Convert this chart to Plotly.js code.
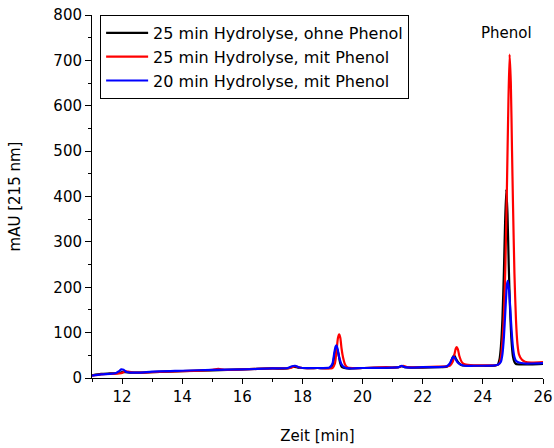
<!DOCTYPE html>
<html>
<head>
<meta charset="utf-8">
<script src="https://cdn.plot.ly/plotly-3.0.1.min.js"></script>
<style>html,body{margin:0;padding:0;background:#fff;}#chart{width:554px;height:448px;}</style>
</head>
<body>
<div id="chart"></div>
<script>
// Series 1: 25 min Hydrolyse, ohne Phenol (black)
const tBlack = [11.0,11.3,11.6,11.9,12.0,12.1,12.3,12.6,13,14,15,16,17,17.5,17.7,17.85,18,18.5,18.9,19.0,19.05,19.1,19.14,19.2,19.25,19.3,19.5,20,21,21.2,21.3,21.4,21.6,22,22.5,22.8,22.9,23.0,23.05,23.1,23.2,23.3,23.6,24,24.4,24.5,24.55,24.6,24.65,24.7,24.74,24.78,24.82,24.86,24.9,24.95,25.0,25.05,25.1,25.3,25.6,26];
const yBlack = [6,9,10,11,13,13,12,12,13,15,17,19,21,21,25,23,22,22,22,28,45,63,66,52,34,25,21,22,23,24,26,24,23,23,24,25,30,46,50,43,33,28,27,27,27,30,40,70,130,235,345,416,360,250,160,85,48,35,31,30,30,31];

// Series 2: 25 min Hydrolyse, mit Phenol (red)
const tRed = [11.0,11.3,11.6,11.9,12.0,12.1,12.2,12.4,12.7,13,14,15,15.2,15.4,16,17,17.6,17.75,17.9,18,18.5,19.0,19.08,19.13,19.18,19.22,19.26,19.3,19.35,19.42,19.5,20,20.8,21,21.2,21.35,21.5,22,22.5,22.9,23.0,23.06,23.1,23.13,23.17,23.22,23.3,23.4,23.7,24,24.4,24.5,24.55,24.6,24.65,24.7,24.75,24.8,24.85,24.89,24.93,24.97,25.0,25.05,25.1,25.15,25.2,25.3,25.4,25.6,26];
const yRed = [5,8,9,10,11,15,14,12,12,13,15,18,20,18,19,21,22,26,23,22,22,22,32,58,88,96,88,65,45,29,23,22,24,23,24,27,24,24,25,27,36,54,65,68,63,48,35,30,28,28,28,29,32,45,80,140,250,420,610,713,650,500,390,230,130,75,52,40,36,34,35];

// Series 3: 20 min Hydrolyse, mit Phenol (blue)
const tBlue = [11.0,11.3,11.6,11.8,11.9,11.97,12.05,12.15,12.3,12.6,13,14,15,16,17,17.5,17.65,17.75,17.9,18,18.5,18.9,19.0,19.05,19.1,19.13,19.17,19.22,19.3,19.4,19.6,20,21,21.2,21.3,21.4,21.6,22,22.5,22.8,22.9,22.97,23.02,23.08,23.15,23.25,23.4,23.7,24,24.4,24.5,24.6,24.65,24.7,24.75,24.8,24.83,24.87,24.9,24.95,25.0,25.05,25.1,25.2,25.4,25.6,26];
const yBlue = [5,8,9,11,15,19,18,13,12,12,14,16,18,19,21,22,26,27,23,22,22,23,32,52,69,72,64,46,30,23,21,22,23,24,27,24,23,24,24,26,32,42,47,43,35,30,27,27,27,28,29,36,52,90,150,205,214,195,165,110,68,46,38,34,32,32,33];

const seriesNames = ['25 min Hydrolyse, ohne Phenol','25 min Hydrolyse, mit Phenol','20 min Hydrolyse, mit Phenol'];
const xTickVals = [12,14,16,18,20,22,24,26];
const yTickVals = [0,100,200,300,400,500,600,700,800];

const FONT = 'DejaVu Sans, Verdana, sans-serif';
const mk = (x, y, name, color, g) => ({
  x: x, y: y, name: name, type: 'scatter', mode: 'lines',
  line: {color: color, width: 2.2, shape: 'spline', smoothing: 0.6},
  legendgroup: g
});

const data = [
  mk(tBlack, yBlack, seriesNames[0], '#000000', 'a'),
  mk(tRed, yRed, seriesNames[1], '#ff0000', 'b'),
  mk(tBlue, yBlue, seriesNames[2], '#0000ff', 'c')
];

const layout = {
  width: 554, height: 448,
  margin: {l: 92, r: 11, t: 15, b: 70},
  paper_bgcolor: '#ffffff', plot_bgcolor: '#ffffff',
  font: {family: FONT, size: 15, color: '#000'},
  showlegend: true,
  legend: {
    x: 0.018, y: 1.0, xanchor: 'left', yanchor: 'top',
    bgcolor: '#ffffff', bordercolor: '#000', borderwidth: 1,
    font: {family: FONT, size: 16, color: '#000'},
    tracegroupgap: 2, traceorder: 'normal', itemwidth: 42
  },
  xaxis: {
    range: [11, 26], tickvals: xTickVals, ticks: 'outside', ticklen: 5, tickwidth: 1,
    tickcolor: '#000', showline: true, linecolor: '#000', linewidth: 1,
    showgrid: false, zeroline: false, mirror: false,
    minor: {dtick: 1, ticks: 'outside', ticklen: 3, tickcolor: '#000', showgrid: false},
    title: {text: 'Zeit [min]', font: {family: FONT, size: 15}, standoff: 25},
    tickfont: {family: FONT, size: 15}
  },
  yaxis: {
    range: [0, 800], tickvals: yTickVals, ticks: 'outside', ticklen: 6, tickwidth: 1,
    tickcolor: '#000', showline: true, linecolor: '#000', linewidth: 1,
    showgrid: false, zeroline: false, mirror: false,
    minor: {dtick: 50, ticks: 'outside', ticklen: 3, tickcolor: '#000', showgrid: false},
    title: {text: 'mAU [215 nm]', font: {family: FONT, size: 15}, standoff: 29},
    tickfont: {family: FONT, size: 15}
  },
  annotations: [{
    x: 24.8, y: 760, xref: 'x', yref: 'y', text: 'Phenol', showarrow: false,
    font: {family: FONT, size: 15, color: '#000'}
  }]
};

Plotly.newPlot('chart', data, layout, {staticPlot: true, displayModeBar: false});
</script>
</body>
</html>
